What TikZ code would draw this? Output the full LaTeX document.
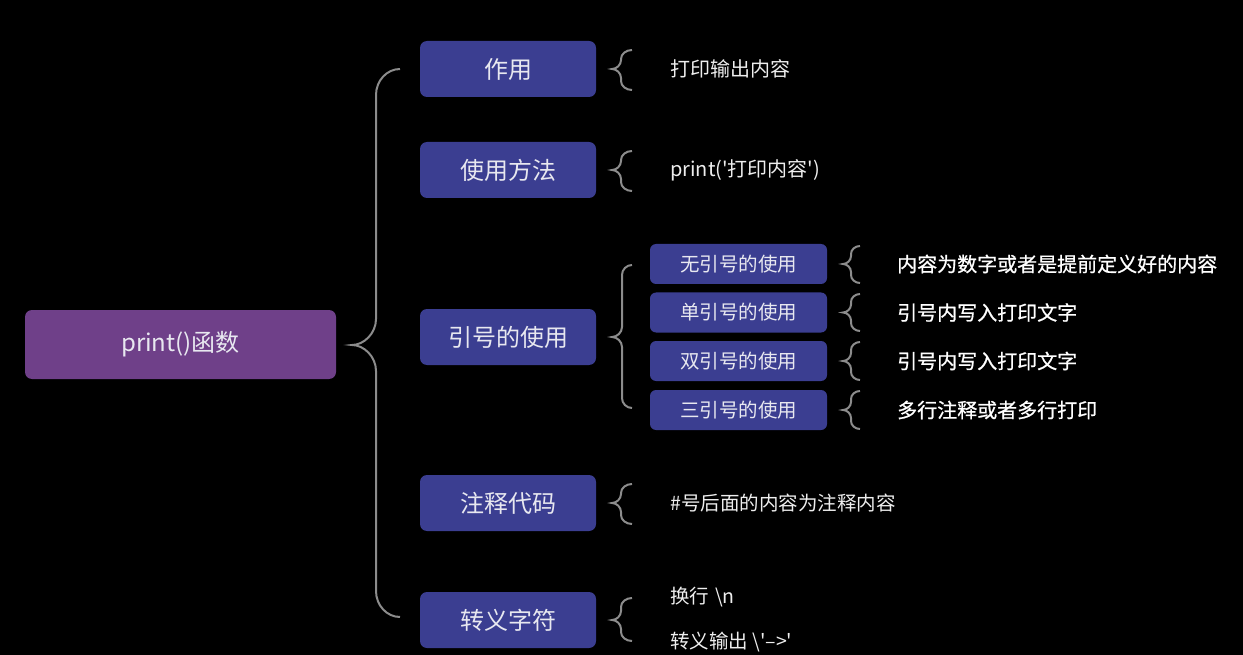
\documentclass[tikz,border=0pt]{standalone}
\usepackage{fontspec}
\setmainfont{Noto Sans CJK SC}[Ligatures=TeXReset]
\newfontfamily\medfont{Noto Sans CJK SC}[FakeBold=0.8,Ligatures=TeXReset]
\begin{document}
\begin{tikzpicture}[x=1pt,y=-1pt,
  rootbox/.style={fill=rootc, rounded corners=7pt, minimum width=311pt, minimum height=69pt, inner sep=0pt, text=boxtext, font=\fontsize{24}{28}\selectfont},
  lvone/.style={fill=boxc, rounded corners=7pt, minimum width=176pt, minimum height=56pt, inner sep=0pt, text=boxtext, font=\fontsize{24}{28}\selectfont},
  lvtwo/.style={fill=boxc, rounded corners=6pt, minimum width=177pt, minimum height=40pt, inner sep=0pt, text=boxtext, font=\fontsize{19.5}{23}\selectfont},
  leafa/.style={anchor=west, inner sep=0pt, text=leaftext, font=\fontsize{20}{24}\selectfont},
  leafb/.style={anchor=west, inner sep=0pt, text=white, font=\medfont\fontsize{20}{24}\selectfont},
  leafc/.style={anchor=west, inner sep=0pt, text=leaftext, font=\fontsize{19.5}{23}\selectfont},
  brcline/.style={draw=bracec, line width=2pt}]
\definecolor{rootc}{RGB}{111,64,137}
\definecolor{boxc}{RGB}{59,62,145}
\definecolor{boxtext}{RGB}{232,232,240}
\definecolor{leaftext}{RGB}{238,238,238}
\definecolor{bracec}{RGB}{140,140,140}
\newcommand\brc[7]{%
\draw[brcline] (#1,#4) .. controls ({#2+0.45*(#1-#2)},#4) and (#2,{#4+0.45*#7}) .. (#2,{#4+#7})
 -- (#2,{#5-#7}) .. controls (#2,{#5-0.45*#7}) and ({#3+0.5*(#2-#3)},#5) .. (#3,#5)
 .. controls ({#3+0.5*(#2-#3)},#5) and (#2,{#5+0.45*#7}) .. (#2,{#5+#7})
 -- (#2,{#6-#7}) .. controls (#2,{#6-0.45*#7}) and ({#2+0.45*(#1-#2)},#6) .. (#1,#6);}
\fill[black] (0,0) rectangle (1243,655);
\useasboundingbox (0,0) rectangle (1243,655);

\node[rootbox] (root) at (180.5,344.5) {print()函数};

\node[lvone] (a) at (508,69) {作用};
\node[lvone] (b) at (508,170) {使用方法};
\node[lvone] (c) at (508,337) {引号的使用};
\node[lvone] (d) at (508,503) {注释代码};
\node[lvone] (e) at (508,620) {转义字符};

\node[lvtwo] (c1) at (738.5,264) {无引号的使用};
\node[lvtwo] (c2) at (738.5,312.5) {单引号的使用};
\node[lvtwo] (c3) at (738.5,361) {双引号的使用};
\node[lvtwo] (c4) at (738.5,410) {三引号的使用};

\node[leafa] (la) at (670,69) {打印输出内容};
\node[leafa] (lb) at (670,170) {print('打印内容')};
\node[leafb] (lc1) at (897,264) {内容为数字或者是提前定义好的内容};
\node[leafb] (lc2) at (897,312.5) {引号内写入打印文字};
\node[leafb] (lc3) at (897,361) {引号内写入打印文字};
\node[leafb] (lc4) at (897,410) {多行注释或者多行打印};
\node[leafc] (ld) at (670,503) {\#号后面的内容为注释内容};
\node[leafc] (le1) at (670,597) {换行\hspace{6pt}\textbackslash n};
\node[leafc] (le2) at (670,642) {转义输出 \textbackslash'{\char"2013}>'};

% main brace
\brc{400}{376}{352}{69}{345}{617}{26}
% level-1 braces
\brc{632}{621}{612}{50}{69}{90}{9}
\brc{632}{621}{612}{151}{170}{191}{9}
\brc{632}{622}{612}{265}{337}{408}{10}
\brc{632}{621}{612}{484}{503}{524}{9}
\brc{632}{621}{612}{598}{620}{641}{9}
% level-2 braces
\brc{860}{851}{843}{246}{264}{283}{8}
\brc{860}{851}{843}{294}{312.5}{331}{8}
\brc{860}{851}{843}{342}{361}{380}{8}
\brc{860}{851}{843}{391}{410}{429}{8}
\end{tikzpicture}
\end{document}
